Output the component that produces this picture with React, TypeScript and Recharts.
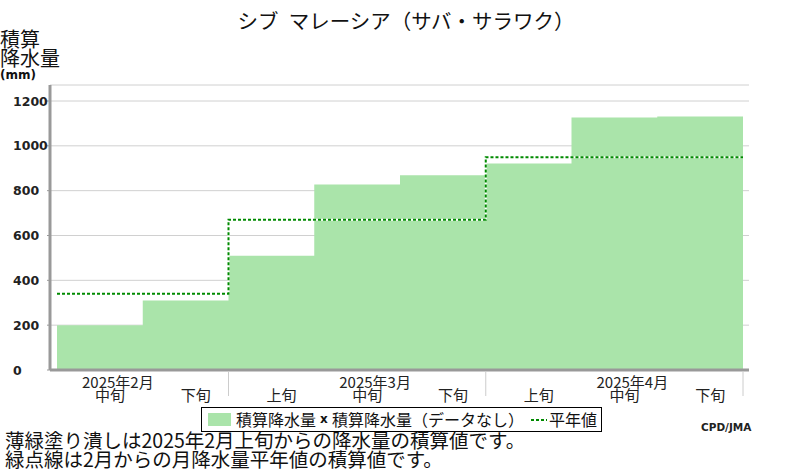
import React from 'react';
import { ComposedChart, Area, Line, XAxis, YAxis, CartesianGrid } from 'recharts';

const dekadLabels = ['中旬', '下旬', '上旬', '中旬', '下旬', '上旬', '中旬', '下旬'];
const monthLabels = ['2025年2月', '2025年2月', '2025年3月', '2025年3月', '2025年3月', '2025年4月', '2025年4月', '2025年4月'];
const precipTotals = [200, 310, 510, 827, 869, 921, 1126, 1131];
const normalTotals = [340, 340, 670, 670, 670, 949, 949, 949];
const yTicks = [0, 200, 400, 600, 800, 1000, 1200];

// one point per dekad start, plus the end of the last dekad so the steps close
const chartData = [
  ...dekadLabels.map((_, i) => ({ x: i, precip: precipTotals[i], normal: normalTotals[i] })),
  { x: dekadLabels.length, precip: precipTotals[precipTotals.length - 1], normal: normalTotals[normalTotals.length - 1] },
];
const xTicks = chartData.map((d) => d.x);

const jp = "'Noto Sans CJK JP', sans-serif";
const fillGreen = '#aae4aa';
const normalGreen = '#008a00';

const isMonthEdge = (i: number) =>
  i === dekadLabels.length || (i > 0 && monthLabels[i] !== monthLabels[i - 1]);

const DekadTick = (props: any) => {
  const { x, y, payload } = props;
  const i = payload.value as number;
  return (
    <g>
      {isMonthEdge(i) && <line x1={x} x2={x} y1={y + 2} y2={y + 26} stroke="#cccccc" strokeWidth={1} />}
      {i < dekadLabels.length && dekadLabels[i] === '中旬' && (
        <text x={x + 25} y={y + 18} fontSize={15} fontFamily={jp} fill="#222">
          {monthLabels[i]}
        </text>
      )}
      {i < dekadLabels.length && (
        <text x={x + 38} y={y + 31} fontSize={15} fontFamily={jp} fill="#222">
          {dekadLabels[i]}
        </text>
      )}
    </g>
  );
};

const ValueTick = (props: any) => {
  const { y, payload } = props;
  return (
    <text x={13} y={y} dy="0.36em" fontSize={12.5} fontWeight="bold" fontFamily="'DejaVu Sans', sans-serif" fill="#222">
      {payload.value}
    </text>
  );
};

const abs = (left: number, top: number, extra: React.CSSProperties = {}): React.CSSProperties => ({
  position: 'absolute',
  left,
  top,
  lineHeight: 1,
  whiteSpace: 'nowrap',
  fontFamily: jp,
  color: '#111',
  ...extra,
});

export default function App() {
  return (
    <div style={{ position: 'absolute', left: 0, top: 0, width: 800, height: 470, background: '#fff', overflow: 'hidden' }}>
      <div style={abs(206, 10, { width: 400, textAlign: 'center', fontSize: 20.5 })}>シブ&ensp;マレーシア（サバ・サラワク）</div>
      <div style={abs(0, 29, { fontSize: 20 })}>積算</div>
      <div style={abs(0, 48, { fontSize: 20 })}>降水量</div>
      <div style={abs(0, 69, { fontSize: 12, fontWeight: 'bold', fontFamily: "'DejaVu Sans', sans-serif" })}>(mm)</div>

      <div style={{ position: 'absolute', left: 0, top: 0 }}>
        <ComposedChart width={800} height={470} data={chartData} margin={{ top: 85, right: 51, bottom: 70, left: 0 }}>
          <CartesianGrid vertical={false} stroke="#d0d0d0" />
          <XAxis
            dataKey="x"
            type="number"
            domain={[0, dekadLabels.length]}
            ticks={xTicks}
            interval={0}
            padding={{ left: 7, right: 6 }}
            height={30}
            tickSize={0}
            tickMargin={0}
            tickLine={false}
            axisLine={{ stroke: '#999', strokeWidth: 3 }}
            tick={<DekadTick />}
          />
          <YAxis
            domain={[0, 1200]}
            ticks={yTicks}
            interval={0}
            padding={{ top: 16 }}
            width={50}
            tickSize={3}
            tickLine={{ stroke: '#999' }}
            axisLine={{ stroke: '#999', strokeWidth: 3 }}
            tick={<ValueTick />}
          />
          <YAxis
            yAxisId="right"
            orientation="right"
            domain={[0, 1200]}
            ticks={yTicks}
            padding={{ top: 16 }}
            width={0}
            tick={false}
            tickLine={false}
            axisLine={{ stroke: '#999', strokeWidth: 3 }}
          />
          <Area
            type="stepAfter"
            dataKey="precip"
            fill={fillGreen}
            fillOpacity={1}
            stroke="none"
            isAnimationActive={false}
          />
          <Line type="stepAfter" dataKey="normal" stroke="#ffffff" strokeWidth={2} dot={false} isAnimationActive={false} />
          <Line
            type="stepAfter"
            dataKey="normal"
            stroke={normalGreen}
            strokeWidth={2}
            strokeDasharray="3 2"
            dot={false}
            isAnimationActive={false}
          />
        </ComposedChart>
      </div>

      <div style={{ position: 'absolute', left: 201, top: 407, width: 401, height: 25, border: '1px solid #000', boxSizing: 'border-box' }} />
      <div style={{ position: 'absolute', left: 208, top: 413, width: 23, height: 13, background: fillGreen }} />
      <div style={abs(236, 411, { fontSize: 16 })}>積算降水量</div>
      <div style={abs(320, 413, { fontSize: 12, fontWeight: 'bold', fontFamily: "'DejaVu Sans', sans-serif" })}>x</div>
      <div style={abs(332, 411, { fontSize: 16 })}>積算降水量（データなし）</div>
      <svg style={{ position: 'absolute', left: 530, top: 416 }} width={18} height={8}>
        <line x1={1} x2={17} y1={4} y2={4} stroke={normalGreen} strokeWidth={2} strokeDasharray="3 2" />
      </svg>
      <div style={abs(549, 411, { fontSize: 16 })}>平年値</div>

      <div style={abs(701, 422, { fontSize: 10.5, fontWeight: 'bold', fontFamily: "'DejaVu Sans', sans-serif", color: '#222' })}>CPD/JMA</div>

      <div style={abs(5, 430, { fontSize: 19.5 })}>薄緑塗り潰しは2025年2月上旬からの降水量の積算値です。</div>
      <div style={abs(5, 449, { fontSize: 19.5 })}>緑点線は2月からの月降水量平年値の積算値です。</div>
    </div>
  );
}
